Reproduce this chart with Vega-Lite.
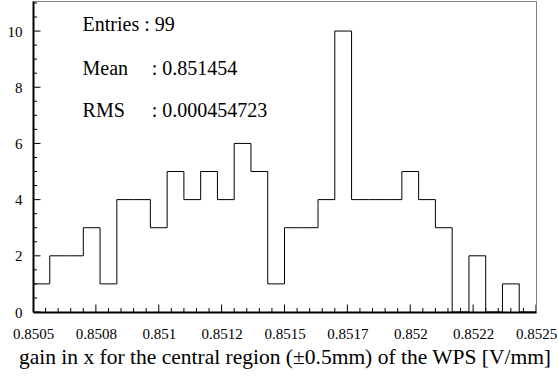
{
  "$schema": "https://vega.github.io/schema/vega-lite/v6.json",
  "autosize": "none",
  "width": 503,
  "height": 311,
  "padding": {"left": 33, "top": 1, "right": 22, "bottom": 65},
  "background": "white",
  "config": {
    "view": {"stroke": "#808080", "strokeWidth": 1},
    "font": "Liberation Serif",
    "axis": {"labelOverlap": false, "labelFlush": false, "labelBound": false, "zindex": 1}
  },
  "datasets": {
    "hist": [
      {"edge": 0.8505, "count": 1},
      {"edge": 0.85056667, "count": 2},
      {"edge": 0.85063333, "count": 2},
      {"edge": 0.8507, "count": 3},
      {"edge": 0.85076667, "count": 1},
      {"edge": 0.85083333, "count": 4},
      {"edge": 0.8509, "count": 4},
      {"edge": 0.85096667, "count": 3},
      {"edge": 0.85103333, "count": 5},
      {"edge": 0.8511, "count": 4},
      {"edge": 0.85116667, "count": 5},
      {"edge": 0.85123333, "count": 4},
      {"edge": 0.8513, "count": 6},
      {"edge": 0.85136667, "count": 5},
      {"edge": 0.85143333, "count": 1},
      {"edge": 0.8515, "count": 3},
      {"edge": 0.85156667, "count": 3},
      {"edge": 0.85163333, "count": 4},
      {"edge": 0.8517, "count": 10},
      {"edge": 0.85176667, "count": 4},
      {"edge": 0.85183333, "count": 4},
      {"edge": 0.8519, "count": 4},
      {"edge": 0.85196667, "count": 5},
      {"edge": 0.85203333, "count": 4},
      {"edge": 0.8521, "count": 3},
      {"edge": 0.85216667, "count": 0},
      {"edge": 0.85223333, "count": 2},
      {"edge": 0.8523, "count": 0},
      {"edge": 0.85236667, "count": 1},
      {"edge": 0.85243333, "count": 0},
      {"edge": 0.8525, "count": 0}
    ],
    "xticks": [
      {"v": 0.8505, "kind": "major"}, {"v": 0.85055, "kind": "minor"}, {"v": 0.8506, "kind": "minor"}, {"v": 0.85065, "kind": "minor"}, {"v": 0.8507, "kind": "minor"},
      {"v": 0.85075, "kind": "major"}, {"v": 0.8508, "kind": "minor"}, {"v": 0.85085, "kind": "minor"}, {"v": 0.8509, "kind": "minor"}, {"v": 0.85095, "kind": "minor"},
      {"v": 0.851, "kind": "major"}, {"v": 0.85105, "kind": "minor"}, {"v": 0.8511, "kind": "minor"}, {"v": 0.85115, "kind": "minor"}, {"v": 0.8512, "kind": "minor"},
      {"v": 0.85125, "kind": "major"}, {"v": 0.8513, "kind": "minor"}, {"v": 0.85135, "kind": "minor"}, {"v": 0.8514, "kind": "minor"}, {"v": 0.85145, "kind": "minor"},
      {"v": 0.8515, "kind": "major"}, {"v": 0.85155, "kind": "minor"}, {"v": 0.8516, "kind": "minor"}, {"v": 0.85165, "kind": "minor"}, {"v": 0.8517, "kind": "minor"},
      {"v": 0.85175, "kind": "major"}, {"v": 0.8518, "kind": "minor"}, {"v": 0.85185, "kind": "minor"}, {"v": 0.8519, "kind": "minor"}, {"v": 0.85195, "kind": "minor"},
      {"v": 0.852, "kind": "major"}, {"v": 0.85205, "kind": "minor"}, {"v": 0.8521, "kind": "minor"}, {"v": 0.85215, "kind": "minor"}, {"v": 0.8522, "kind": "minor"},
      {"v": 0.85225, "kind": "major"}, {"v": 0.8523, "kind": "minor"}, {"v": 0.85235, "kind": "minor"}, {"v": 0.8524, "kind": "minor"}, {"v": 0.85245, "kind": "minor"},
      {"v": 0.8525, "kind": "major"}
    ],
    "yticks": [
      {"v": 0, "kind": "major"}, {"v": 0.5, "kind": "minor"}, {"v": 1, "kind": "minor"}, {"v": 1.5, "kind": "minor"},
      {"v": 2, "kind": "major"}, {"v": 2.5, "kind": "minor"}, {"v": 3, "kind": "minor"}, {"v": 3.5, "kind": "minor"},
      {"v": 4, "kind": "major"}, {"v": 4.5, "kind": "minor"}, {"v": 5, "kind": "minor"}, {"v": 5.5, "kind": "minor"},
      {"v": 6, "kind": "major"}, {"v": 6.5, "kind": "minor"}, {"v": 7, "kind": "minor"}, {"v": 7.5, "kind": "minor"},
      {"v": 8, "kind": "major"}, {"v": 8.5, "kind": "minor"}, {"v": 9, "kind": "minor"}, {"v": 9.5, "kind": "minor"},
      {"v": 10, "kind": "major"}, {"v": 10.5, "kind": "minor"}, {"v": 11, "kind": "minor"}
    ],
    "stats": [
      {"x": 0.850697, "y": 10.0, "text": "Entries : 99"},
      {"x": 0.850697, "y": 8.43, "text": "Mean"},
      {"x": 0.850972, "y": 8.43, "text": ": 0.851454"},
      {"x": 0.850697, "y": 6.94, "text": "RMS"},
      {"x": 0.850972, "y": 6.94, "text": ": 0.000454723"}
    ]
  },
  "layer": [
    {
      "data": {"name": "xticks"},
      "mark": {"type": "tick", "orient": "vertical", "clip": true, "color": "#000000", "thickness": 1, "opacity": 1},
      "encoding": {
        "x": {"field": "v", "type": "quantitative"},
        "y": {"datum": 0, "type": "quantitative"},
        "size": {"field": "kind", "type": "nominal", "scale": {"domain": ["major", "minor"], "range": [15, 8]}, "legend": null}
      }
    },
    {
      "data": {"name": "yticks"},
      "mark": {"type": "tick", "orient": "horizontal", "clip": true, "color": "#000000", "thickness": 1, "opacity": 1},
      "encoding": {
        "x": {"datum": 0.8505, "type": "quantitative"},
        "y": {"field": "v", "type": "quantitative"},
        "size": {"field": "kind", "type": "nominal", "scale": {"domain": ["major", "minor"], "range": [17, 9]}, "legend": null}
      }
    },
    {
      "data": {"name": "hist"},
      "mark": {"type": "line", "interpolate": "step-after", "color": "#000000", "strokeWidth": 1},
      "encoding": {
        "x": {
          "field": "edge",
          "type": "quantitative",
          "scale": {"domain": [0.8505, 0.8525], "nice": false, "zero": false},
          "axis": {
            "values": [0.8505, 0.85075, 0.851, 0.85125, 0.8515, 0.85175, 0.852, 0.85225, 0.8525],
            "tickCount": 200,
            "labelExpr": "(abs(datum.value - 0.85075) < 0.000001) ? '0.8508' : (abs(datum.value - 0.851) < 0.000001) ? '0.851' : (abs(datum.value - 0.8505) < 0.000001) ? '0.8505' : (abs(datum.value - 0.85125) < 0.000001) ? '0.8512' : (abs(datum.value - 0.8515) < 0.000001) ? '0.8515' : (abs(datum.value - 0.85175) < 0.000001) ? '0.8517' : (abs(datum.value - 0.852) < 0.000001) ? '0.852' : (abs(datum.value - 0.85225) < 0.000001) ? '0.8522' : (abs(datum.value - 0.8525) < 0.000001) ? '0.8525' : ''",
            "grid": false,
            "domainColor": "#000000",
            "domainWidth": 2,
            "ticks": false,
            "labelPadding": 14,
            "labelFont": "Times New Roman",
            "labelFontSize": 15,
            "labelColor": "#000000",
            "labelOverlap": false,
            "labelFlush": false,
            "labelBound": false,
            "zindex": 1,
            "title": "gain in x for the central region (±0.5mm) of the WPS [V/mm]",
            "titleFont": "Times New Roman",
            "titleFontSize": 21.5,
            "titleFontWeight": "normal",
            "titleColor": "#000000",
            "titlePadding": 5
          }
        },
        "y": {
          "field": "count",
          "type": "quantitative",
          "scale": {"domain": [0, 11.07], "nice": false},
          "axis": {
            "values": [0, 2, 4, 6, 8, 10],
            "tickCount": 200,
            "labelExpr": "format(datum.value, 'd')",
            "grid": false,
            "domainColor": "#000000",
            "domainWidth": 2,
            "ticks": false,
            "labelPadding": 11,
            "labelFont": "Times New Roman",
            "labelFontSize": 15,
            "labelColor": "#000000",
            "labelOverlap": false,
            "labelFlush": false,
            "labelBound": false,
            "zindex": 1,
            "title": null
          }
        }
      }
    },
    {
      "data": {"name": "stats"},
      "mark": {"type": "text", "align": "left", "baseline": "alphabetic", "font": "Times New Roman", "fontSize": 20, "color": "#000000"},
      "encoding": {
        "x": {"field": "x", "type": "quantitative"},
        "y": {"field": "y", "type": "quantitative"},
        "text": {"field": "text", "type": "nominal"}
      }
    }
  ]
}
